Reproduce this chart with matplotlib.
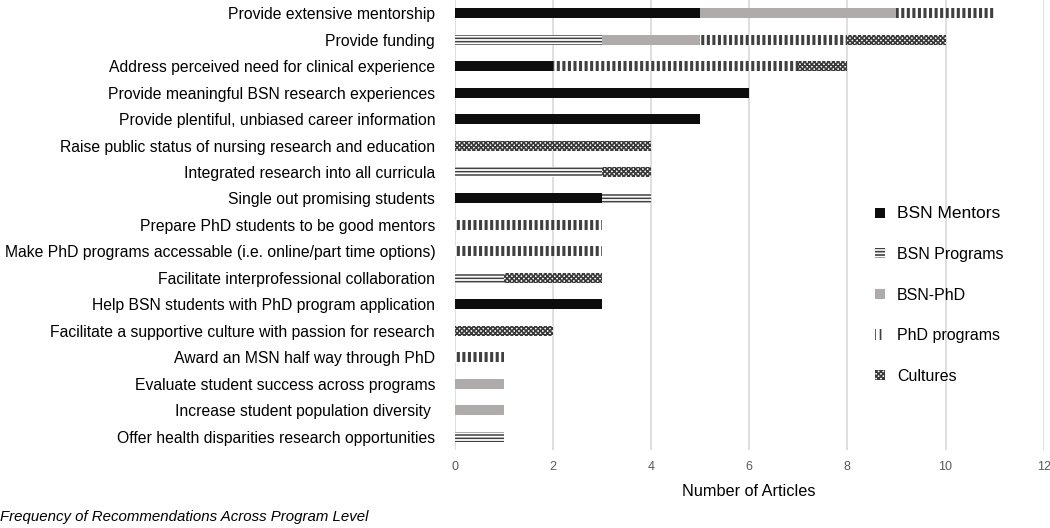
import matplotlib.pyplot as plt
import numpy as np

plt.rcParams['font.family'] = ['Liberation Sans', 'DejaVu Sans']

categories = [
    'Provide extensive mentorship',
    'Provide funding',
    'Address perceived need for clinical experience',
    'Provide meaningful BSN research experiences',
    'Provide plentiful, unbiased career information',
    'Raise public status of nursing research and education',
    'Integrated research into all curricula',
    'Single out promising students',
    'Prepare PhD students to be good mentors',
    'Make PhD programs accessable (i.e. online/part time options)',
    'Facilitate interprofessional collaboration',
    'Help BSN students with PhD program application',
    'Facilitate a supportive culture with passion for research',
    'Award an MSN half way through PhD',
    'Evaluate student success across programs',
    'Increase student population diversity ',
    'Offer health disparities research opportunities',
]

bsn_mentors  = [5, 0, 2, 6, 5, 0, 0, 3, 0, 0, 0, 3, 0, 0, 0, 0, 0]
bsn_programs = [0, 3, 0, 0, 0, 0, 3, 1, 0, 0, 1, 0, 0, 0, 0, 0, 1]
bsn_phd      = [4, 2, 0, 0, 0, 0, 0, 0, 0, 0, 0, 0, 0, 0, 1, 1, 0]
phd_programs = [2, 3, 5, 0, 0, 0, 0, 0, 3, 3, 0, 0, 0, 1, 0, 0, 0]
cultures     = [0, 2, 1, 0, 0, 4, 1, 0, 0, 0, 2, 0, 2, 0, 0, 0, 0]

series = [
    ('BSN Mentors', bsn_mentors),
    ('BSN Programs', bsn_programs),
    ('BSN-PhD', bsn_phd),
    ('PhD programs', phd_programs),
    ('Cultures', cultures),
]
# facecolor, hatch, hatch colour, hatch linewidth
styles = {
    'BSN Mentors': ('#0d0d0d', None, '#0d0d0d', 1.0),
    'BSN Programs': ('white', '-----', '#404040', 1.1),
    'BSN-PhD': ('#b0abab', None, '#b0abab', 1.0),
    'PhD programs': ('white', '|||', '#404040', 2.2),
    'Cultures': ('white', 'xxxxxxx', '#3a3a3a', 1.2),
}

fig = plt.figure(figsize=(10.5, 5.28), dpi=100)
ax = fig.add_axes([0.433, 0.148, 0.561, 0.852])

y = np.arange(len(categories))
left = np.zeros(len(categories))
for name, vals in series:
    fc, hatch, hc, hlw = styles[name]
    vals = np.array(vals, dtype=float)
    plt.rcParams['hatch.linewidth'] = hlw
    bars = ax.barh(y, vals, left=left, height=0.38, color=fc, edgecolor=hc,
                   hatch=hatch, linewidth=0, label=name, zorder=3)
    for b in bars:
        try:
            b.set_hatch_linewidth(hlw)
        except AttributeError:
            pass
    left += vals

ax.set_xlim(0, 12)
ax.set_ylim(len(categories) - 0.5, -0.5)
ax.set_xticks(range(0, 13, 2))
ax.set_yticks(y)
ax.set_yticklabels(categories, fontsize=11.3)
ax.tick_params(axis='y', length=0, pad=14)
ax.tick_params(axis='x', length=0, pad=8, labelsize=9, labelcolor='#595959')
ax.grid(axis='x', color='#d9d9d9', linewidth=1.2, zorder=0)
for s in ax.spines.values():
    s.set_visible(False)
ax.set_xlabel('Number of Articles', fontsize=11.7, labelpad=8)

leg = ax.legend(loc='center left', bbox_to_anchor=(0.69, 0.344), frameon=False,
                handlelength=0.6, handleheight=0.6, handletextpad=0.75,
                labelspacing=1.6, fontsize=11.5)
leg.get_texts()[0].set_fontsize(12.5)

fig.text(0.0, 0.008, 'Frequency of Recommendations Across Program Level',
         fontsize=10.8, style='italic', ha='left', va='bottom')

fig.savefig('out.png', dpi=100)
